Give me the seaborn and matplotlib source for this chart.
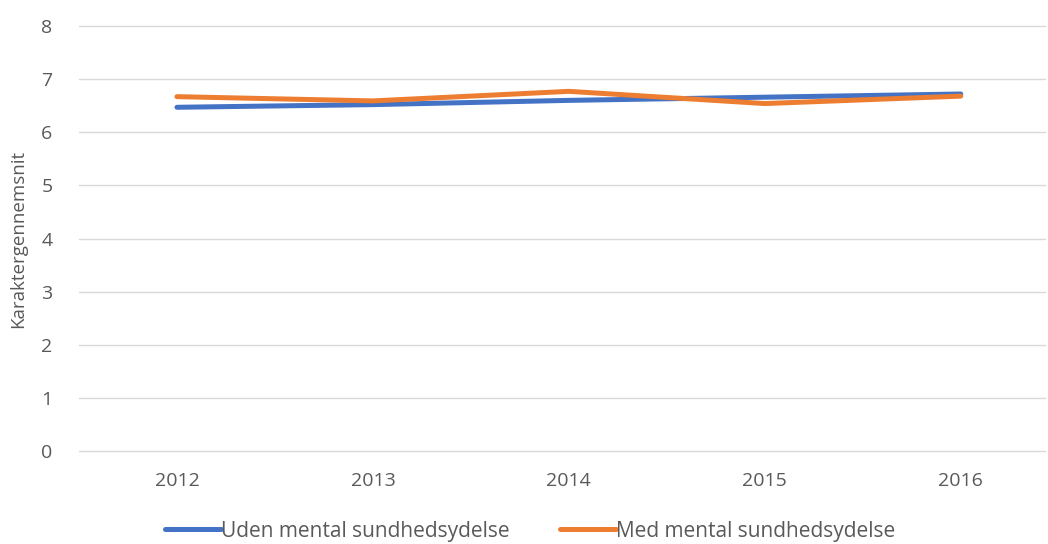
import matplotlib
matplotlib.use("Agg")
import matplotlib.pyplot as plt
import seaborn as sns
import pandas as pd

years = ["2012", "2013", "2014", "2015", "2016"]
uden = [6.47, 6.52, 6.60, 6.66, 6.72]
med = [6.67, 6.59, 6.77, 6.54, 6.68]
series_names = ["Uden mental sundhedsydelse", "Med mental sundhedsydelse"]
colors = ["#4472C4", "#ED7D31"]
yticks = [0, 1, 2, 3, 4, 5, 6, 7, 8]

df = pd.DataFrame({
    "År": years * 2,
    "Karaktergennemsnit": uden + med,
    "Gruppe": [series_names[0]] * 5 + [series_names[1]] * 5,
})

sns.set_style("white")
plt.rcParams["font.family"] = ["Open Sans", "DejaVu Sans"]
grey = "#595959"

fig = plt.figure(figsize=(10.48, 5.44), dpi=100)
ax = fig.add_axes([79 / 1048, 93 / 544, 966 / 1048, 425 / 544])

sns.lineplot(data=df, x="År", y="Karaktergennemsnit", hue="Gruppe",
             palette=colors, linewidth=3.6, ax=ax, sort=False,
             solid_capstyle="round")

ax.set_ylim(0, 8)
ax.set_yticks(yticks)
ax.set_xlim(-0.5, 4.43)
ax.grid(axis="y", color="#D9D9D9", linewidth=1)
for gl in ax.get_ygridlines():
    gl.set_clip_on(False)
ax.set_axisbelow(True)
for s in ax.spines.values():
    s.set_visible(False)
ax.tick_params(axis="both", length=0, labelsize=14, colors=grey)
ax.tick_params(axis="x", pad=15)
ax.tick_params(axis="y", pad=19)
ax.set_xlabel("")
ax.set_ylabel("Karaktergennemsnit", fontsize=13.5, color=grey, labelpad=10)

handles, labels = ax.get_legend_handles_labels()
ax.get_legend().remove()
leg = fig.legend(handles, labels, loc="center", bbox_to_anchor=(530 / 1048, 13 / 544),
                 ncol=2, frameon=False, fontsize=15, handlelength=2.7,
                 handletextpad=0.0, columnspacing=2.4, borderpad=0)
for t in leg.get_texts():
    t.set_color(grey)
for h in leg.get_lines():
    h.set_linewidth(3.6)

fig.savefig("out.png", dpi=100)
